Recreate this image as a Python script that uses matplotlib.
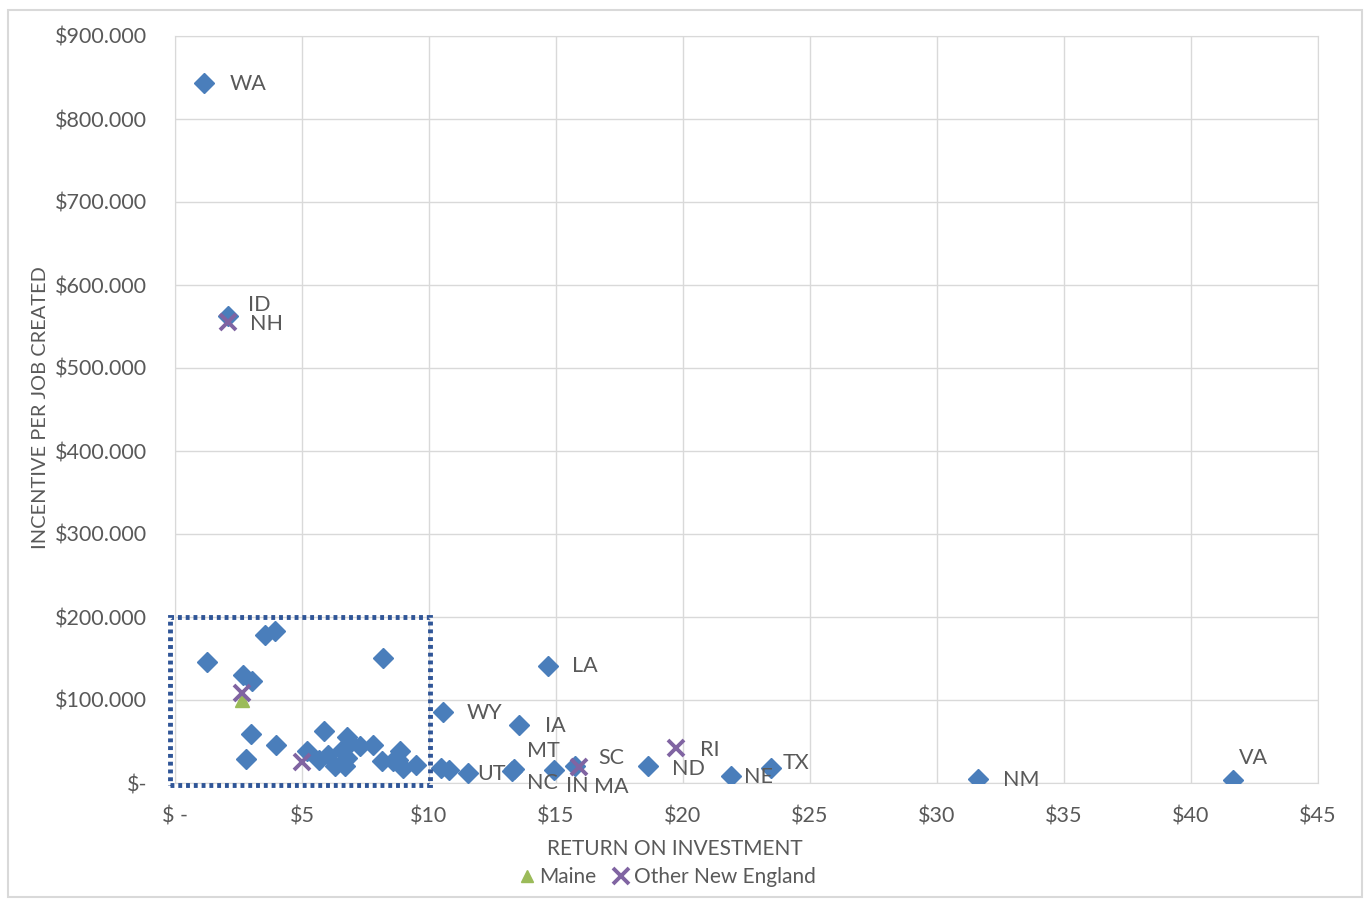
import matplotlib
matplotlib.use('Agg')
import matplotlib.pyplot as plt
from matplotlib.patches import Rectangle
from matplotlib.lines import Line2D

plt.rcParams['font.family'] = ['Lato', 'DejaVu Sans']

# 各州数据: 投资回报 / 每个就业岗位的激励
states = ['WA', 'ID', 'LA', 'WY', 'IA', 'UT', 'MT', 'NC', 'IN', 'SC', 'ND',
          'NE', 'TX', 'NM', 'VA',
          '', '', '', '', '', '', '', '', '', '', '', '', '', '', '', '', '',
          '', '', '', '', '', '', '', '', '', '']
roi = [1.14, 2.09, 14.70, 10.54, 13.56, 11.52, 13.35, 13.25, 14.94, 15.75, 18.61,
       21.89, 23.46, 31.60, 41.64,
       1.25, 3.54, 3.94, 8.18, 2.66, 3.02, 2.98, 3.98, 2.80, 5.88, 5.18, 5.68,
       6.04, 6.30, 6.69, 6.76, 6.89, 6.56, 6.76, 7.28, 7.78, 8.14, 8.59, 8.86,
       8.79, 8.99, 9.49, 10.46, 10.80]
incentive = [843, 563, 141, 86, 70, 12, 17, 14, 16, 20, 21,
             8, 18, 5, 4,
             146, 178, 183, 151, 130, 123, 59, 46, 29, 63, 38, 28,
             34, 20, 20, 56, 48, 40, 30, 45, 46, 26, 26, 38,
             28, 18, 22, 18, 16]

maine_roi = [2.62]
maine_inc = [100]

ne_states = ['NH', 'RI', 'MA', '', '']
ne_roi = [2.09, 19.72, 15.92, 2.62, 4.99]
ne_inc = [555, 42, 19, 109, 25]

# 标签偏移 (像素)
label_offset = {'WA': (26, -1), 'ID': (20, 11), 'NH': (22, -2), 'LA': (24, 0),
                'WY': (24, -1), 'IA': (26, -1), 'UT': (10, -1), 'MT': (13, 18),
                'NC': (15, -12), 'IN': (12, -16), 'SC': (23, 8), 'MA': (15, -20),
                'ND': (24, -3), 'RI': (24, -2), 'NE': (13, -1), 'TX': (12, 5),
                'NM': (25, -1), 'VA': (6, 22)}

xticks = [0, 5, 10, 15, 20, 25, 30, 35, 40, 45]
xticklabels = ['$ -', '$5', '$10', '$15', '$20', '$25', '$30', '$35', '$40', '$45']
yticks = [0, 100, 200, 300, 400, 500, 600, 700, 800, 900]
yticklabels = ['$-', '$100.000', '$200.000', '$300.000', '$400.000', '$500.000',
               '$600.000', '$700.000', '$800.000', '$900.000']

blue = '#4A7EBB'
purple = '#8064A2'
green = '#9BBB59'
txt = '#595959'
grid = '#D9D9D9'

fig = plt.figure(figsize=(13.69, 9.01), dpi=100)
ax = fig.add_axes([175/1369, 1-783/901, (1318-175)/1369, (783-36)/901])

ax.plot(roi, incentive, 'D', color=blue, ms=10, zorder=3)
ax.plot(maine_roi, maine_inc, '^', color=green, ms=10, zorder=4)
ax.plot(ne_roi, ne_inc, 'x', color=purple, ms=11, mew=2.8, zorder=5)

for s, x, y in list(zip(states, roi, incentive)) + list(zip(ne_states, ne_roi, ne_inc)):
    if s:
        dx, dy = label_offset[s]
        ax.annotate(s, (x, y), xytext=(dx, dy), textcoords='offset pixels',
                    ha='left', va='center', fontsize=15.5, color=txt)

ax.set_xlim(0, 45)
ax.set_ylim(0, 900)
ax.set_xticks(xticks)
ax.set_xticklabels(xticklabels)
ax.set_yticks(yticks)
ax.set_yticklabels(yticklabels)
ax.tick_params(length=0, labelsize=15.5, colors=txt)
ax.tick_params(axis='y', pad=20)
ax.tick_params(axis='x', pad=17)
ax.grid(True, color=grid, lw=1)
ax.set_axisbelow(True)
for sp in ax.spines.values():
    sp.set_color(grid)

# 虚线框
ax.add_patch(Rectangle((-0.2, -2), 10.25, 202, fill=False, ls=(0, (0.8, 0.8)),
                       lw=3.5, ec='#2F5597', clip_on=False, zorder=6))

fig.text(675/1369, 1-849/901, 'RETURN ON INVESTMENT', ha='center', va='center',
         fontsize=15, color=txt)
fig.text(41/1369, 1-408/901, 'INCENTIVE PER JOB CREATED', ha='center', va='center',
         rotation=90, fontsize=14.4, color=txt)

handles = [Line2D([], [], ls='', marker='^', color=green, ms=9),
           Line2D([], [], ls='', marker='x', color=purple, ms=11, mew=2.8)]
fig.legend(handles, ['Maine', 'Other New England'], loc='center',
           bbox_to_anchor=(666/1369, 1-877/901), ncol=2, frameon=False,
           handletextpad=0.1, columnspacing=0.7, handlelength=1.0,
           fontsize=15, labelcolor=txt)

fig.add_artist(Rectangle((8/1369, 1-897/901), 1354/1369, 887/901, fill=False,
                         ec='#D9D9D9', lw=1.5, transform=fig.transFigure))

fig.savefig('out.png', dpi=100, facecolor='white')
